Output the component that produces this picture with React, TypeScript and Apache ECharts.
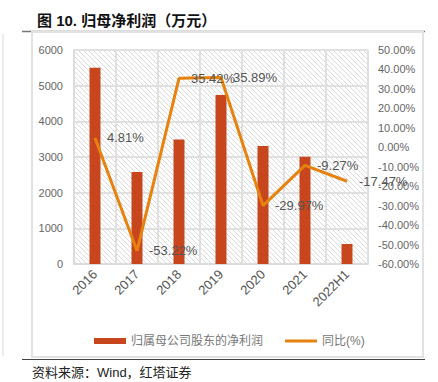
import React, { useEffect, useRef } from "react";
import * as echarts from "echarts";

const categories = ["2016", "2017", "2018", "2019", "2020", "2021", "2022H1"];
const profitValues = [5500, 2580, 3490, 4740, 3310, 3010, 560];
const yoyValues = [4.81, -53.22, 35.42, 35.89, -29.97, -9.27, -17.47];
const barName = "归属母公司股东的净利润";
const lineName = "同比(%)";
const titleText = "图 10. 归母净利润（万元）";
const sourceText = "资料来源：Wind，红塔证券";

export default function App() {
  const ref = useRef<HTMLDivElement>(null);
  useEffect(() => {
    if (!ref.current) return;
    const chart = echarts.init(ref.current, undefined, { renderer: "svg" });
    const font = "'Liberation Sans', Arial, 'Noto Sans CJK SC', sans-serif";
    chart.setOption({
      animation: false,
      textStyle: { fontFamily: font },
      title: {
        text: titleText,
        left: 32,
        top: 8,
        textStyle: { fontSize: 15, fontWeight: "bold", color: "#111", fontFamily: font },
      },
      graphic: [
        { type: "line", shape: { x1: 22, y1: 31.5, x2: 425, y2: 31.5 }, style: { stroke: "#777", lineWidth: 1.5 } },
        { type: "rect", shape: { x: 32, y: 32, width: 391, height: 325 }, style: { fill: "none", stroke: "#e2e2e2", lineWidth: 2 } },
        { type: "line", shape: { x1: 3, y1: 34, x2: 3, y2: 356 }, style: { stroke: "#e6e6e6", lineWidth: 1.5 } },
        { type: "line", shape: { x1: 22, y1: 359.5, x2: 425, y2: 359.5 }, style: { stroke: "#444", lineWidth: 1.2 } },
        { type: "text", x: 32, y: 366, style: { text: sourceText, fontSize: 13, fill: "#222", fontFamily: font } },
      ],
      grid: {
        left: 74,
        right: 70,
        top: 50,
        bottom: 118,
      },
      legend: {
        left: 89,
        top: 330,
        itemWidth: 32,
        itemHeight: 6,
        itemGap: 22,
        textStyle: { fontSize: 12, color: "#777", fontFamily: font },
        data: [
          { name: barName, icon: "rect" },
          { name: lineName, icon: "path://M0,0L32,0L32,3L0,3Z" },
        ],
      },
      xAxis: {
        type: "category",
        data: categories,
        axisLine: { show: true, lineStyle: { color: "#dcdcdc", width: 2 } },
        axisTick: { show: false },
        splitLine: { show: true, lineStyle: { color: "#e0e0e0", width: 2 } },
        axisLabel: { rotate: 45, fontSize: 13, color: "#555", margin: 8, interval: 0 },
      },
      yAxis: [
        {
          type: "value",
          min: 0,
          max: 6000,
          interval: 1000,
          axisLine: { show: true, lineStyle: { color: "#dcdcdc", width: 2 } },
          axisTick: { show: false },
          splitLine: { show: true, lineStyle: { color: "#e0e0e0", width: 2 } },
          axisLabel: { fontSize: 11, color: "#666", margin: 11, formatter: (v: number) => String(v) },
        },
        {
          type: "value",
          min: -60,
          max: 50,
          interval: 10,
          axisLine: { show: false },
          axisTick: { show: false },
          splitLine: { show: false },
          axisLabel: {
            fontSize: 11,
            color: "#666",
            margin: 10,
            formatter: (v: number) => v.toFixed(2) + "%",
          },
        },
      ],
      series: [
        {
          name: "hatch",
          type: "custom",
          z: -1,
          silent: true,
          data: [[0, 0]],
          renderItem: (params: any) => {
            const cs = params.coordSys;
            const x0 = cs.x, y0 = cs.y, w = cs.width, h = cs.height;
            const step = 5;
            const children: any[] = [];
            for (let c = -w; c <= h; c += step) {
              const u1 = Math.max(0, -c);
              const u2 = Math.min(w, h - c);
              if (u2 <= u1) continue;
              children.push({
                type: "line",
                shape: { x1: x0 + u1, y1: y0 + u1 + c, x2: x0 + u2, y2: y0 + u2 + c },
                style: { stroke: "#dadada", lineWidth: 1 },
              });
            }
            return { type: "group", children };
          },
        },
        {
          name: barName,
          type: "bar",
          data: profitValues,
          barWidth: 11,
          itemStyle: { color: "#C8461E" },
        },
        {
          name: lineName,
          type: "line",
          yAxisIndex: 1,
          data: yoyValues,
          symbol: "circle",
          symbolSize: 0,
          showSymbol: true,
          lineStyle: { color: "#E6820E", width: 3 },
          itemStyle: { color: "#E6820E" },
          label: {
            show: true,
            position: "right",
            distance: 12,
            fontSize: 13,
            color: "#555",
            formatter: (p: any) => Number(p.value).toFixed(2) + "%",
          },
          labelLayout: { hideOverlap: false },
        },
      ],
    });
    return () => chart.dispose();
  }, []);
  return (
    <div
      ref={ref}
      style={{ position: "fixed", left: 0, top: 0, width: 438, height: 382, background: "#fff" }}
    />
  );
}
